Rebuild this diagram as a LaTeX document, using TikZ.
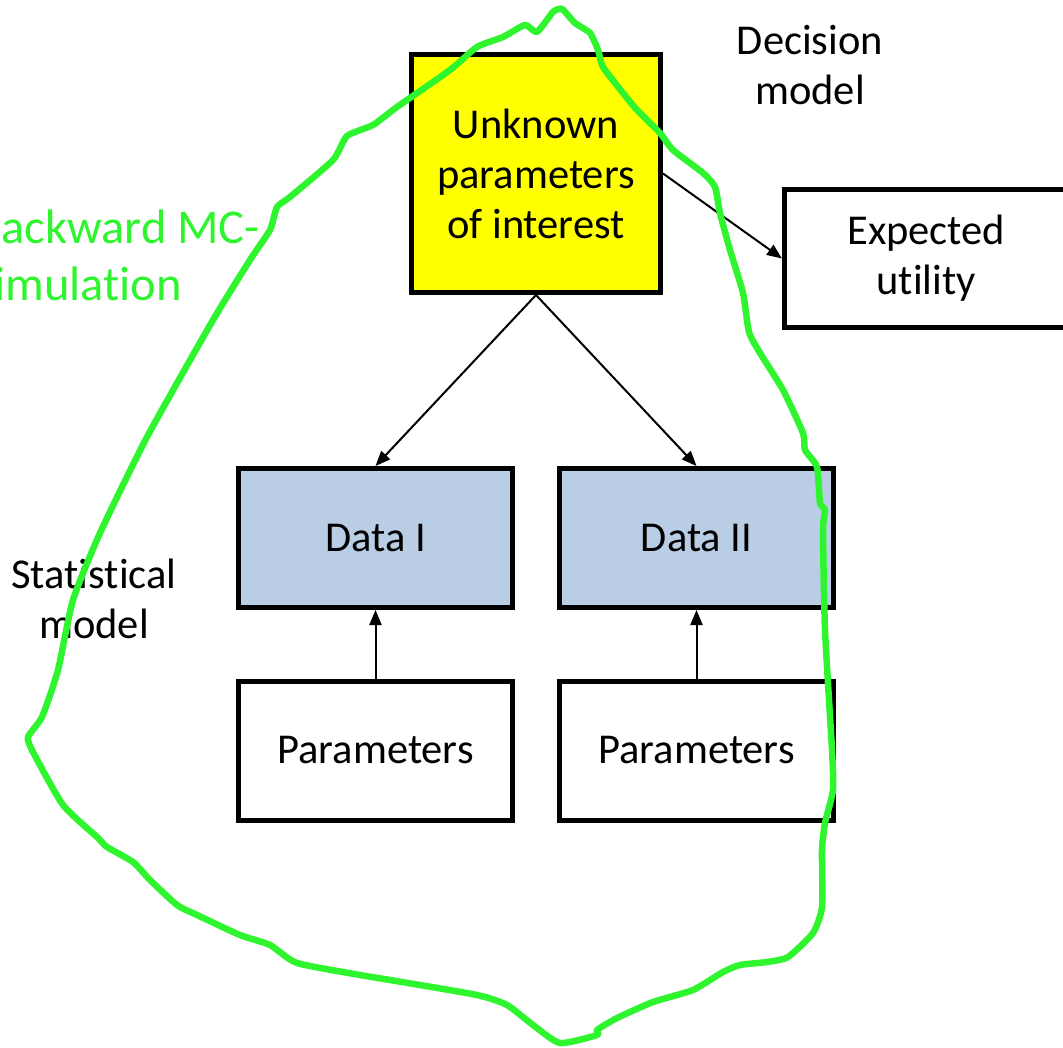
\documentclass[tikz,border=0pt]{standalone}
\usepackage{fontspec}
\setmainfont{Carlito}[Ligatures={NoCommon,NoRare}]
\usetikzlibrary{arrows.meta}

\definecolor{boxyellow}{RGB}{255,255,0}
\definecolor{datablue}{RGB}{185,205,229}
\definecolor{markgreen}{RGB}{46,245,46}

\begin{document}
\begin{tikzpicture}[x=1pt,y=-1pt,
  box/.style={draw=black,line width=5pt,inner sep=0pt,align=center,
    minimum width=274pt,minimum height=139pt,
    font=\fontsize{42.5}{50}\selectfont},
  label/.style={inner sep=0pt,align=center,font=\fontsize{42.5}{50}\selectfont},
  link/.style={line width=2pt,-{Triangle[length=15pt,width=12pt]}},
  lasso/.style={draw=markgreen,line width=6.5pt,line join=round,line cap=round}
]
\useasboundingbox (0,0) rectangle (1063,1048);
\begin{scope}
\clip (0,0) rectangle (1063,1048);

% model boxes
\node[box,fill=boxyellow,minimum width=249pt,minimum height=238pt] (unknown) at (536,173.5)
  {Unknown\\parameters\\of interest};
\node[box,minimum width=283.5pt,minimum height=138pt] (utility) at (926.25,258.5)
  {Expected\\utility};
\node[box,fill=datablue] (data1) at (375.5,538) {Data I};
\node[box,fill=datablue] (data2) at (696.5,538) {Data II};
\node[box] (par1) at (375.5,750.5) {Parameters};
\node[box] (par2) at (696.5,750.5) {Parameters};

% side labels
\node[label] (decision) at (810,65) {Decision\\model};
\node[label] (statistical) at (94,599) {Statistical\\model};
\node[label,text=markgreen,anchor=west,align=left,font=\fontsize{48.5}{57}\selectfont]
  (backward) at (-25,255) {Backward MC-\\simulation};

% dependencies
\draw[link] (unknown.south) -- (data1.north);
\draw[link] (unknown.south) -- (data2.north);
\draw[link] (unknown.east) -- (utility.west);
\draw[link] (par1.north) -- (data1.south);
\draw[link] (par2.north) -- (data2.south);

% hand-drawn loop round the backward simulation
\draw[lasso] plot[smooth cycle,tension=0.35] coordinates {
  (562,9) (575,23) (590,33) (598,50) (603,67) (623,93) (637,110) (660,133)
  (673,150) (703,173) (715,187) (720,213) (730,250) (743,293) (749,332)
  (760,353) (783,390) (803,433) (805,450) (817,467) (820,503) (825,510)
  (823,530) (825,630) (832,750) (833,790) (825,823) (822,850) (822,907)
  (813,933) (788,957) (767,962) (740,965) (723,972) (693,990) (653,1002)
  (617,1018) (597,1030) (597,1035) (560,1043) (533,1025) (507,1005)
  (477,995) (390,980) (360,975) (297,963) (270,945) (240,935) (197,915)
  (177,905) (150,880) (133,862) (107,847) (97,837) (63,805) (33,752)
  (28,737) (42,717) (58,670) (73,600) (100,533) (147,437) (213,320)
  (250,260) (270,230) (277,207) (290,197) (333,160) (347,136) (373,125)
  (397,107) (450,70) (477,47) (503,37) (525,25) (537,32) (553,12)
};
\end{scope}
\end{tikzpicture}
\end{document}
